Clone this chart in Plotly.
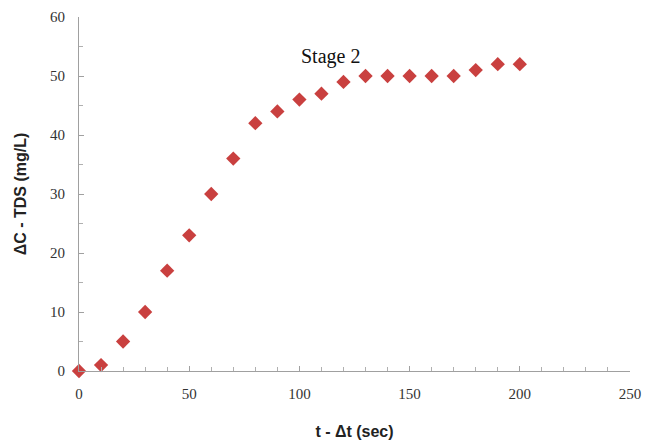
import plotly.graph_objects as go

t_values = [0, 10, 20, 30, 40, 50, 60, 70, 80, 90, 100, 110, 120, 130, 140, 150, 160, 170, 180, 190, 200]
dc_values = [0, 1, 5, 10, 17, 23, 30, 36, 42, 44, 46, 47, 49, 50, 50, 50, 50, 50, 51, 52, 52]
x_ticks = [0, 50, 100, 150, 200, 250]
y_ticks = [0, 10, 20, 30, 40, 50, 60]

fig = go.Figure()
fig.add_trace(go.Scatter(
    x=t_values, y=dc_values, mode="markers",
    marker=dict(symbol="diamond", size=11, color="#C9403F"),
    showlegend=False, cliponaxis=False,
))

axis_common = dict(
    showgrid=False, zeroline=False, showline=True, linecolor="#A0A0A0", linewidth=1,
    ticks="inside", tickcolor="#A0A0A0", ticklen=5, automargin=False,
    tickfont=dict(family="Liberation Serif, Times New Roman, serif", size=15, color="#333333"),
)

fig.update_xaxes(
    range=[0, 250], tickvals=x_ticks, **axis_common, ticklabelstandoff=9,
    minor=dict(dtick=10, ticks="inside", ticklen=4, tickcolor="#B0B0B0"),
    title=dict(text="<b>t - Δt (sec)</b>", font=dict(family="Liberation Sans, Arial, sans-serif", size=16, color="#222222"), standoff=24),
)
fig.update_yaxes(
    range=[0, 60], tickvals=y_ticks, **axis_common, ticklabelstandoff=10,
    minor=dict(dtick=5, ticks="inside", ticklen=4, tickcolor="#B0B0B0"),
    title=dict(text="<b>ΔC - TDS (mg/L)</b>", font=dict(family="Liberation Sans, Arial, sans-serif", size=16, color="#222222"), standoff=19),
)

fig.add_annotation(
    x=114, y=53.3, xref="x", yref="y", text="Stage 2", showarrow=False,
    font=dict(family="Liberation Serif, Times New Roman, serif", size=20, color="#111111"),
)

fig.update_layout(
    width=667, height=445,
    margin=dict(l=79, r=37, t=17, b=74),
    plot_bgcolor="white", paper_bgcolor="white",
)

fig.write_html("out.html")
